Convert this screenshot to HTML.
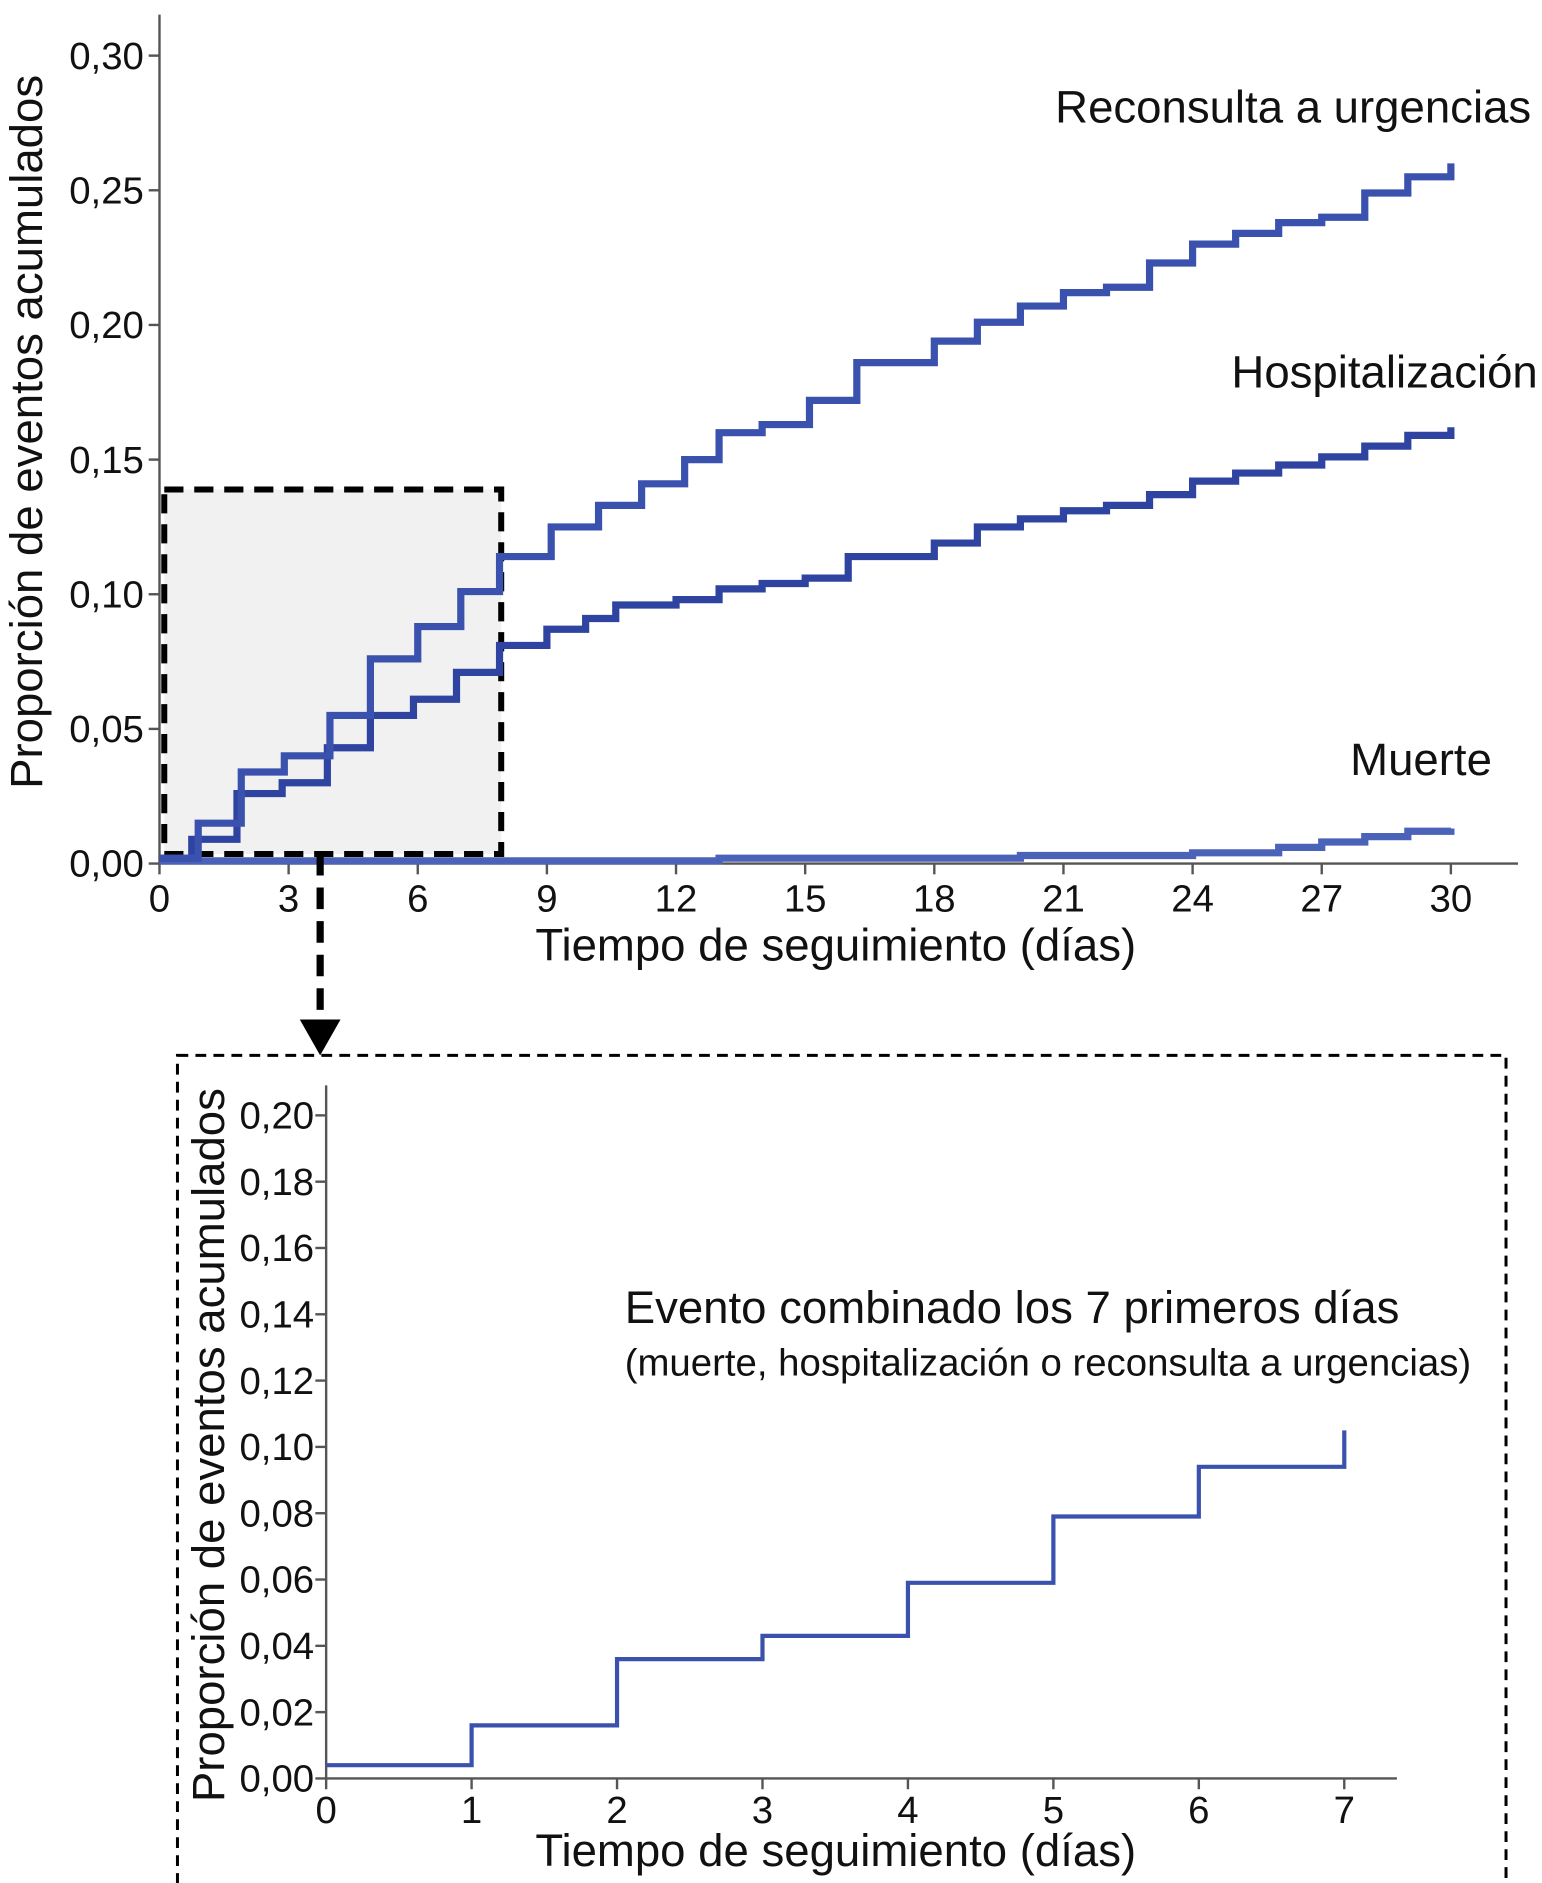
<!DOCTYPE html>
<html><head><meta charset="utf-8"><style>
html,body{margin:0;padding:0;background:#fff}
svg{display:block}
text{font-family:"Liberation Sans",Arial,sans-serif;fill:#111}
</style></head><body>
<svg id="chart" width="1542" height="1883" viewBox="0 0 1286 1570" xmlns="http://www.w3.org/2000/svg">
<g id="main"></g>
<g id="inset"></g>
</svg>
<script>
// Main chart data
const mainXTicks = [0,3,6,9,12,15,18,21,24,27,30];
const mainYTicks = [0,0.05,0.10,0.15,0.20,0.25,0.30];
const reconTimes = [0,0.9,1.9,2.9,3.96,4.9,6.0,7.0,7.9,9.1,10.2,11.2,12.2,13,14,15.1,16.2,18,19,20,21,22,23,24,25,26,27,28,29,30];
const reconVals  = [0.002,0.015,0.034,0.040,0.055,0.076,0.088,0.101,0.114,0.125,0.133,0.141,0.150,0.160,0.163,0.172,0.186,0.194,0.201,0.207,0.212,0.214,0.223,0.230,0.234,0.238,0.240,0.249,0.255,0.260];
const hospTimes = [0,0.75,1.8,2.85,3.9,4.9,5.9,6.9,7.9,9,9.9,10.6,12,13,14,15,16,18,19,20,21,22,23,24,25,26,27,28,29,30];
const hospVals  = [0.002,0.009,0.026,0.030,0.043,0.055,0.061,0.071,0.081,0.087,0.091,0.096,0.098,0.102,0.104,0.106,0.114,0.119,0.125,0.128,0.131,0.133,0.137,0.142,0.145,0.148,0.151,0.155,0.159,0.162];
const deathTimes = [0,13,20,24,26,27,28,29,30];
const deathVals  = [0.001,0.002,0.003,0.004,0.006,0.008,0.010,0.012,0.013];
// Inset data
const insetXTicks = [0,1,2,3,4,5,6,7];
const insetYTicks = [0,0.02,0.04,0.06,0.08,0.10,0.12,0.14,0.16,0.18,0.20];
const combTimes = [0,1,2,3,4,5,6,7];
const combVals  = [0.004,0.016,0.036,0.043,0.059,0.079,0.094,0.105];

const NS="http://www.w3.org/2000/svg";
function mk(parent,tag,attrs,txt){const e=document.createElementNS(NS,tag);for(const k in attrs)e.setAttribute(k,attrs[k]);if(txt!==undefined)e.textContent=txt;parent.appendChild(e);return e;}
const fmt=(v,d)=>v.toFixed(d).replace('.',',');
function stepPath(ts,vs,X,Y){let d=`M${X(ts[0])},${Y(vs[0])}`;for(let i=1;i<ts.length;i++){d+=` H${X(ts[i])} V${Y(vs[i])}`;}return d;}

// ---- Main ----
const g=document.getElementById('main');
const X=t=>133+t*35.9, Y=v=>720-v*2246;
const hb=mk(g,'rect',{x:137,y:408,width:281,height:304,fill:'#f1f1f1',stroke:'#000','stroke-width':5,'stroke-dasharray':'16,9'});

let l=mk(g,'line',{x1:133,y1:12,x2:133,y2:720,stroke:'#555','stroke-width':2});

l=mk(g,'line',{x1:133,y1:720,x2:1266,y2:720,stroke:'#555','stroke-width':2});

mainYTicks.forEach(v=>{mk(g,'line',{x1:124,x2:133,y1:Y(v),y2:Y(v),stroke:'#555','stroke-width':2});
 const t=mk(g,'text',{x:120,y:Y(v)+11,'font-size':32,'text-anchor':'end'},fmt(v,2));
 });
mainXTicks.forEach(v=>{mk(g,'line',{x1:X(v),x2:X(v),y1:720,y2:729,stroke:'#555','stroke-width':2});
 const t=mk(g,'text',{x:X(v),y:760,'font-size':32,'text-anchor':'middle'},String(v));
 });
let p=mk(g,'path',{d:stepPath(deathTimes,deathVals,X,Y),fill:'none',stroke:'#4a62b8','stroke-width':6});

p=mk(g,'path',{d:stepPath(hospTimes,hospVals,X,Y),fill:'none',stroke:'#2f44a0','stroke-width':6});

p=mk(g,'path',{d:stepPath(reconTimes,reconVals,X,Y),fill:'none',stroke:'#3a52ad','stroke-width':6});

let t=mk(g,'text',{x:880,y:102,'font-size':38},'Reconsulta a urgencias');

t=mk(g,'text',{x:1027,y:323,'font-size':38},'Hospitalización');

t=mk(g,'text',{x:1126,y:646,'font-size':38},'Muerte');

t=mk(g,'text',{x:697,y:801,'font-size':38,'text-anchor':'middle'},'Tiempo de seguimiento (días)');

t=mk(g,'text',{x:0,y:0,'font-size':38,'text-anchor':'middle',transform:'translate(35,360) rotate(-90)'},'Proporción de eventos acumulados');

l=mk(g,'line',{x1:267,y1:712,x2:267,y2:852,stroke:'#000','stroke-width':6,'stroke-dasharray':'18,10'});

p=mk(g,'path',{d:'M250,850 L284,850 L267,880 Z',fill:'#000'});


// ---- Inset ----
const h=document.getElementById('inset');
const X2=t=>272+t*121.3, Y2=v=>1483-v*2765;
let r=mk(h,'rect',{x:148,y:880,width:1108,height:700,fill:'none',stroke:'#000','stroke-width':2.5,'stroke-dasharray':'9,6'});

l=mk(h,'line',{x1:272,y1:905,x2:272,y2:1483,stroke:'#555','stroke-width':2});

l=mk(h,'line',{x1:272,y1:1483,x2:1165,y2:1483,stroke:'#555','stroke-width':2});

insetYTicks.forEach(v=>{mk(h,'line',{x1:263,x2:272,y1:Y2(v),y2:Y2(v),stroke:'#555','stroke-width':2});
 const tt=mk(h,'text',{x:262,y:Y2(v)+11,'font-size':32,'text-anchor':'end'},fmt(v,2));
 });
insetXTicks.forEach(v=>{mk(h,'line',{x1:X2(v),x2:X2(v),y1:1483,y2:1492,stroke:'#555','stroke-width':2});
 const tt=mk(h,'text',{x:X2(v),y:1520,'font-size':32,'text-anchor':'middle'},String(v));
 });
p=mk(h,'path',{d:stepPath(combTimes,combVals,X2,Y2),fill:'none',stroke:'#3a52ad','stroke-width':3.5});

t=mk(h,'text',{x:521,y:1103,'font-size':38},'Evento combinado los 7 primeros días');

t=mk(h,'text',{x:521,y:1147,'font-size':32},'(muerte, hospitalización o reconsulta a urgencias)');

t=mk(h,'text',{x:697,y:1556,'font-size':38,'text-anchor':'middle'},'Tiempo de seguimiento (días)');

t=mk(h,'text',{x:0,y:0,'font-size':38,'text-anchor':'middle',transform:'translate(187,1205) rotate(-90)'},'Proporción de eventos acumulados');

</script>
</body></html>
